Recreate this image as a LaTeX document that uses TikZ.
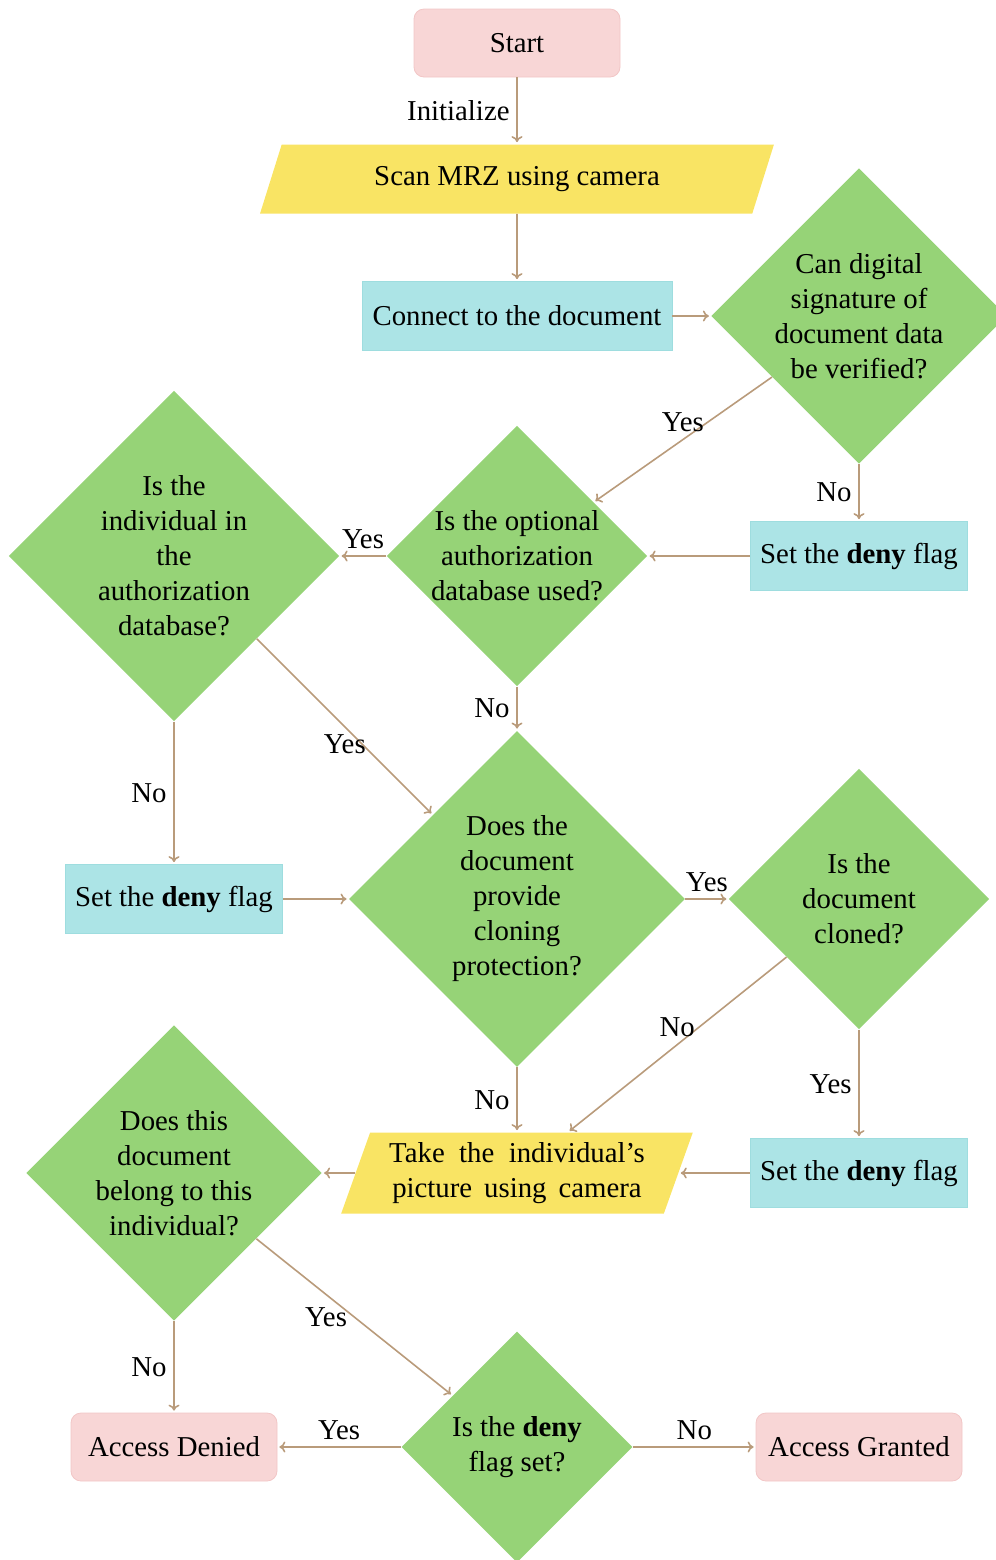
\documentclass[tikz,border=0pt]{standalone}
\usepackage{fontspec}
\setmainfont{Liberation Serif}
\usetikzlibrary{shapes.geometric,arrows.meta}

\definecolor{termpink}{HTML}{F8D6D6}
\definecolor{termedge}{HTML}{F2C6C6}
\definecolor{ioyellow}{HTML}{F9E464}
\definecolor{procblue}{HTML}{ACE4E6}
\definecolor{procedge}{HTML}{9EDDDF}
\definecolor{decgreen}{HTML}{96D377}
\definecolor{linkbrown}{HTML}{B99B7B}

\begin{document}
\begin{tikzpicture}[x=0.5pt,y=-0.5pt,shorten >=1pt,->,>={To[length=3pt,width=5.5pt]},font=\fontsize{14.4}{17.5}\selectfont]
    \tikzstyle{term}=[rectangle,rounded corners=5pt,draw=termedge,fill=termpink,minimum width=103pt,minimum height=34pt,inner xsep=5pt]
    \tikzstyle{io}=[trapezium,trapezium left angle=70,trapezium right angle=110,trapezium stretches,fill=ioyellow,inner xsep=5pt]
    \tikzstyle{procbox}=[rectangle,draw=procedge,fill=procblue,minimum height=34.5pt,inner xsep=5pt]
    \tikzstyle{decision}=[diamond,aspect=1,fill=decgreen,text width=88pt,align=flush center,inner sep=-0.75pt]
    \tikzstyle{link}=[draw=linkbrown,line width=0.8pt]
    \useasboundingbox (0,0) rectangle (996,1560);

    \node[term] (start) at (517,43) {Start};
    \node[io,minimum width=257.5pt,minimum height=34.5pt] (scan) at (517,179) {Scan MRZ using camera};
    \node[procbox,minimum width=155pt] (connect) at (517,316) {Connect to the document};

    \node[decision] (D-1) at (859,316) {Can digital signature of document data be verified?};
    \node[decision] (D-2) at (517,556) {Is the optional authorization database used?};
    \node[decision] (D-3) at (174,556) {Is the individual in the authorization database?};
    \node[decision] (D-4) at (517,899) {Does the document provide cloning protection?};
    \node[decision] (D-5) at (859,899) {Is the document cloned?};
    \node[decision] (D-6) at (174,1173) {Does this document belong to this individual?};
    \node[decision] (D-7) at (517,1447) {Is the \textbf{deny} flag set?};

    \foreach \num/\x/\y in {1/859/556, 2/174/899, 3/859/1173}
        \node[procbox] (F-\num) at (\x,\y) {Set the \textbf{deny} flag};

    \node[io,minimum width=176pt,minimum height=40.5pt,align=center] (take) at (517,1173) {Take\ \ the\ \ individual’s\\picture\, using\, camera};
    \node[term] (denied) at (174,1447) {Access Denied};
    \node[term] (granted) at (859,1447) {Access Granted};

    \foreach \from/\to in {scan/connect, connect/D-1, F-1/D-2, F-2/D-4, F-3/take, take/D-6}
        \draw[link] (\from) -- (\to);

    \foreach \from/\to/\where/\answer in {start/scan/left/Initialize, D-1/D-2/above/Yes, D-1/F-1/left/No,
            D-2/D-3/above/Yes, D-2/D-4/left/No, D-3/D-4/below/Yes, D-3/F-2/left/No,
            D-4/D-5/above/Yes, D-4/take/left/No, D-5/take/above/No, D-5/F-3/left/Yes,
            D-6/D-7/left/Yes, D-6/denied/left/No, D-7/denied/above/Yes, D-7/granted/above/No}
        \draw[link] (\from) -- node[\where] {\answer} (\to);
\end{tikzpicture}
\end{document}
